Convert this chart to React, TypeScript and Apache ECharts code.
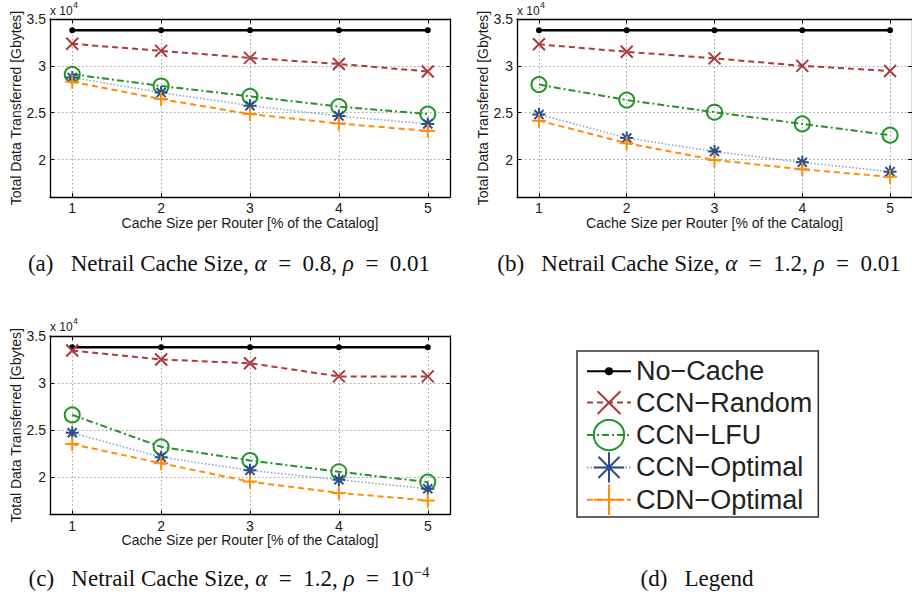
import React, { useEffect, useRef } from 'react';
import * as echarts from 'echarts';

// ---------- data ----------
const cacheSizes = [1, 2, 3, 4, 5];
const xTicks = [1, 2, 3, 4, 5];
const yTicks = [20000, 25000, 30000, 35000];
const seriesNames = ['No\u2212Cache', 'CCN\u2212Random', 'CCN\u2212LFU', 'CCN\u2212Optimal', 'CDN\u2212Optimal'];

// (a) alpha = 0.8, rho = 0.01
const aNoCache = [33800, 33800, 33800, 33800, 33800];
const aRandom = [32350, 31600, 30850, 30200, 29400];
const aLfu = [29100, 27850, 26750, 25650, 24850];
const aCcnOpt = [28750, 27150, 25750, 24650, 23800];
const aCdnOpt = [28300, 26450, 24850, 23850, 23050];

// (b) alpha = 1.2, rho = 0.01
const bNoCache = [33800, 33800, 33800, 33800, 33800];
const bRandom = [32300, 31500, 30800, 30000, 29450];
const bLfu = [28000, 26350, 25050, 23800, 22600];
const bCcnOpt = [24800, 22300, 20850, 19700, 18700];
const bCdnOpt = [24150, 21750, 19950, 18950, 18150];

// (c) alpha = 1.2, rho = 1e-4
const cNoCache = [33800, 33800, 33800, 33800, 33800];
const cRandom = [33450, 32500, 32100, 30700, 30700];
const cLfu = [26600, 23200, 21750, 20550, 19450];
const cCcnOpt = [24700, 22100, 20700, 19700, 18750];
const cCdnOpt = [23500, 21450, 19500, 18300, 17500];

const xAxisTitle = 'Cache Size per Router [% of the Catalog]';
const yAxisTitle = 'Total Data Transferred [Gbytes]';
const EQ = '\u2002=\u2002';
const captionA = `{n|(a)   Netrail Cache Size, }{i|\u03b1}{n|${EQ}0.8, }{i|\u03c1}{n|${EQ}0.01}`;
const captionB = `{n|(b)   Netrail Cache Size, }{i|\u03b1}{n|${EQ}1.2, }{i|\u03c1}{n|${EQ}0.01}`;
const captionC = `{n|(c)   Netrail Cache Size, }{i|\u03b1}{n|${EQ}1.2, }{i|\u03c1}{n|${EQ}10}{s|\u22124}`;
const captionD = '{n|(d)   Legend}';

// ---------- styles ----------
const FONT = '"Liberation Sans", Arial, Helvetica, sans-serif';
const SERIF = '"Liberation Serif", "Times New Roman", serif';
const RED = '#a83c3c';
const GREEN = '#25932a';
const BLUE = '#2b4e8c';
const BLUE_LIGHT = '#8a9ec8';
const ORANGE = '#ff8c0a';

const DOT = 'path://M0,0M30,30M11,15a4,4 0 1,0 8,0a4,4 0 1,0 -8,0';
const XMARK = 'path://M0,0M16,16M2,2L14,14M14,2L2,14';
const AST = 'path://M5,0L5,10M0,5L10,5M1.5,1.5L8.5,8.5M8.5,1.5L1.5,8.5';
const PLUS = 'path://M5,0L5,10M0,5L10,5';

const seriesStyles: any[] = [
  { symbol: DOT, symbolSize: 22, itemStyle: { color: '#000' }, lineStyle: { color: '#000', width: 2.5, type: 'solid' } },
  { symbol: XMARK, symbolSize: 16, itemStyle: { color: 'transparent', borderColor: RED, borderWidth: 2 }, lineStyle: { color: RED, width: 2, type: [6, 4] } },
  { symbol: 'circle', symbolSize: 15, itemStyle: { color: 'transparent', borderColor: GREEN, borderWidth: 2 }, lineStyle: { color: GREEN, width: 2, type: [7, 3, 2, 3] } },
  { symbol: AST, symbolSize: 13, itemStyle: { color: 'transparent', borderColor: BLUE, borderWidth: 2 }, lineStyle: { color: BLUE_LIGHT, width: 1.5, type: [1.5, 2] } },
  { symbol: PLUS, symbolSize: 14, itemStyle: { color: 'transparent', borderColor: ORANGE, borderWidth: 2 }, lineStyle: { color: ORANGE, width: 2, type: [6, 4] } },
];

const panels = [
  { grid: { left: 50, top: 19, width: 400, height: 178 }, values: [aNoCache, aRandom, aLfu, aCcnOpt, aCdnOpt], expY: 11 },
  { grid: { left: 517, top: 19, width: 400, height: 178 }, values: [bNoCache, bRandom, bLfu, bCcnOpt, bCdnOpt], expY: 11 },
  { grid: { left: 50, top: 336, width: 400, height: 178.5 }, values: [cNoCache, cRandom, cLfu, cCcnOpt, cCdnOpt], expY: 327 },
];

const axisLineStyle = { color: '#000', width: 1.3 };
const labelStyle = { fontFamily: FONT, fontSize: 14, color: '#1a1a1a' };
const gridLine = { show: true, lineStyle: { color: '#a0a0a0', type: [1.5, 2.5], width: 1 } };

function buildOption() {
  const grid: any[] = [];
  const xAxis: any[] = [];
  const yAxis: any[] = [];
  const series: any[] = [];
  const graphic: any[] = [];

  panels.forEach((p, gi) => {
    grid.push({ ...p.grid, containLabel: false });
    xAxis.push({
      type: 'value', gridIndex: gi, min: 0.75, max: 5.25, position: 'bottom',
      name: xAxisTitle, nameLocation: 'middle', nameGap: 17, nameTextStyle: labelStyle,
      axisLine: { show: true, onZero: false, lineStyle: axisLineStyle },
      axisTick: { show: true, inside: true, length: 4, customValues: xTicks, lineStyle: { color: '#000' } },
      axisLabel: { customValues: xTicks, margin: 4, ...labelStyle },
      splitLine: gridLine,
    });
    xAxis.push({
      type: 'value', gridIndex: gi, min: 0.75, max: 5.25, position: 'top',
      axisLine: { show: true, onZero: false, lineStyle: axisLineStyle },
      axisTick: { show: true, inside: true, length: 4, customValues: xTicks, lineStyle: { color: '#000' } },
      axisLabel: { show: false }, splitLine: { show: false },
    });
    yAxis.push({
      type: 'value', gridIndex: gi, min: 16000, max: 35000, position: 'left',
      name: yAxisTitle, nameLocation: 'middle', nameGap: 27, nameTextStyle: labelStyle,
      axisLine: { show: true, onZero: false, lineStyle: axisLineStyle },
      axisTick: { show: true, inside: true, length: 4, customValues: yTicks, lineStyle: { color: '#000' } },
      axisLabel: { customValues: yTicks, margin: 4, formatter: (v: number) => String(v / 10000), ...labelStyle },
      splitLine: gridLine,
    });
    yAxis.push({
      type: 'value', gridIndex: gi, min: 16000, max: 35000, position: 'right',
      axisLine: { show: true, onZero: false, lineStyle: axisLineStyle },
      axisTick: { show: true, inside: true, length: 4, customValues: yTicks, lineStyle: { color: '#000' } },
      axisLabel: { show: false }, splitLine: { show: false },
    });
    p.values.forEach((vals, si) => {
      series.push({
        type: 'line', name: seriesNames[si], xAxisIndex: gi * 2, yAxisIndex: gi * 2,
        data: cacheSizes.map((x, k) => [x, vals[k]]),
        symbolKeepAspect: true, showAllSymbol: true, clip: false,
        ...seriesStyles[si],
        emphasis: { disabled: true },
      });
    });
    graphic.push({ type: 'text', x: p.grid.left, y: p.expY, style: { text: 'x 10', fontFamily: FONT, fontSize: 12, fill: '#1a1a1a', align: 'left', verticalAlign: 'middle' } });
    graphic.push({ type: 'text', x: p.grid.left + 23, y: p.expY - 6, style: { text: '4', fontFamily: FONT, fontSize: 9, fill: '#1a1a1a', align: 'left', verticalAlign: 'middle' } });
  });

  const capRich = {
    n: { fontFamily: SERIF, fontSize: 23, lineHeight: 28, fill: '#111', color: '#111' },
    i: { fontFamily: SERIF, fontSize: 23, lineHeight: 28, fontStyle: 'italic', fill: '#111', color: '#111' },
    s: { fontFamily: SERIF, fontSize: 15, lineHeight: 15, verticalAlign: 'top', fill: '#111', color: '#111' },
  };
  const caps = [
    { t: captionA, x: 229, y: 263 },
    { t: captionB, x: 699, y: 263 },
    { t: captionC, x: 229, y: 578 },
    { t: captionD, x: 697, y: 578 },
  ];
  caps.forEach((c) => {
    graphic.push({ type: 'text', x: c.x, y: c.y, style: { text: c.t, rich: capRich, align: 'center', verticalAlign: 'middle', fontFamily: SERIF, fontSize: 23 } });
  });

  return {
    animation: false,
    backgroundColor: '#fff',
    grid, xAxis, yAxis, series, graphic,
    legend: {
      data: seriesNames,
      orient: 'vertical', left: 577, top: 351,
      itemWidth: 44, itemHeight: 38, itemGap: 0,
      padding: [5, 6, 1, 9],
      borderColor: '#333', borderWidth: 1.5,
      textStyle: { fontFamily: FONT, fontSize: 27, color: '#222' },
      selectedMode: false,
    },
  };
}

export default function App() {
  const ref = useRef<HTMLDivElement>(null);
  useEffect(() => {
    const chart = echarts.init(ref.current!, null, { renderer: 'svg' });
    chart.setOption(buildOption() as any);
    return () => chart.dispose();
  }, []);
  return <div ref={ref} style={{ position: 'fixed', left: 0, top: 0, width: 912, height: 596, background: '#fff' }} />;
}
